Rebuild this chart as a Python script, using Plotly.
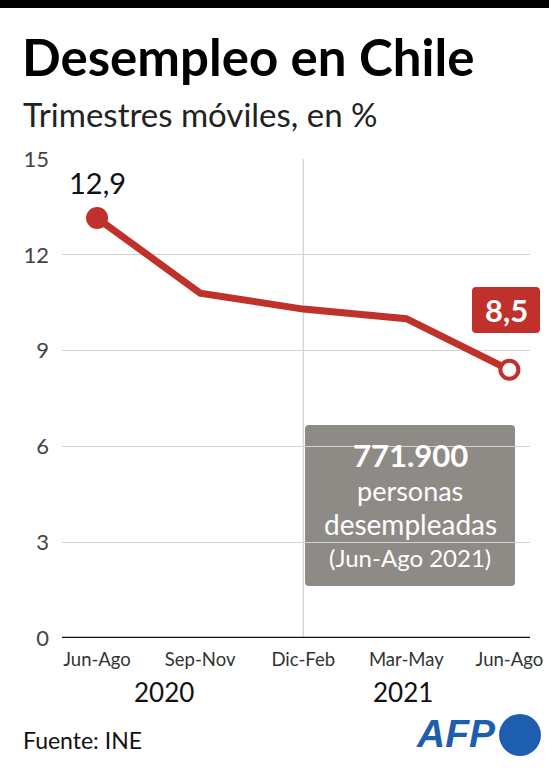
import plotly.graph_objects as go

# ---- data ----
periods = ["Jun-Ago", "Sep-Nov", "Dic-Feb", "Mar-May", "Jun-Ago"]
years = ["2020", "2021"]
unemployment = [13.15, 10.8, 10.3, 10.0, 8.4]
first_label = "12,9"
last_label = "8,5"
yticks = [0, 3, 6, 9, 12, 15]

W, H = 558, 768
L, R, T, B = 62, 28, 159, 130
PW, PH = W - L - R, H - T - B

def px(x):
    return (x - L) / PW

def py(y):
    return (H - B - y) / PH

def rounded_rect(x0, y0, x1, y1, r):
    # pixel coords -> paper path with rounded corners
    pts = (f"M {px(x0 + r)},{py(y0)} L {px(x1 - r)},{py(y0)} "
           f"Q {px(x1)},{py(y0)} {px(x1)},{py(y0 + r)} L {px(x1)},{py(y1 - r)} "
           f"Q {px(x1)},{py(y1)} {px(x1 - r)},{py(y1)} L {px(x0 + r)},{py(y1)} "
           f"Q {px(x0)},{py(y1)} {px(x0)},{py(y1 - r)} L {px(x0)},{py(y0 + r)} "
           f"Q {px(x0)},{py(y0)} {px(x0 + r)},{py(y0)} Z")
    return pts

RED = "#c0312b"
GREY_BOX = "#8e8a86"
BLUE = "#1d5fae"
FONT = "Lato"

xs = list(range(len(periods)))

fig = go.Figure()
fig.add_trace(go.Scatter(
    x=xs, y=unemployment, mode="lines",
    line=dict(color=RED, width=7), cliponaxis=False, hoverinfo="skip"))
fig.add_trace(go.Scatter(
    x=[xs[0]], y=[unemployment[0]], mode="markers",
    marker=dict(color=RED, size=22, line=dict(width=0)), cliponaxis=False))
fig.add_trace(go.Scatter(
    x=[xs[-1]], y=[unemployment[-1]], mode="markers",
    marker=dict(color="white", size=18, line=dict(color=RED, width=4)), cliponaxis=False))

fig.update_layout(
    width=W, height=H, margin=dict(l=L, r=R, t=T, b=B),
    paper_bgcolor="white", plot_bgcolor="white", showlegend=False,
    font=dict(family=FONT, color="#333333"),
    xaxis=dict(range=[-0.34, 4.2], tickvals=xs, ticktext=periods, showgrid=False,
               zeroline=False, showline=False, ticks="", ticklabelstandoff=8,
               tickfont=dict(size=18.5, color="#333333"), fixedrange=True),
    yaxis=dict(range=[0, 15], tickvals=yticks, ticktext=[str(v) for v in yticks],
               showgrid=True, gridcolor="#d2d2d2", gridwidth=1, zeroline=False,
               showline=False, ticks="", ticklabelstandoff=12,
               tickfont=dict(size=22, color="#444444"), fixedrange=True),
)

# year separator and baseline
fig.add_shape(type="line", xref="x", yref="y", x0=2, x1=2, y0=0, y1=15,
              line=dict(color="#c8c8c8", width=1), layer="below")
fig.add_shape(type="line", xref="paper", yref="y", x0=0, x1=1, y0=0, y1=0,
              line=dict(color="#111111", width=2.5))

# top black bar
fig.add_shape(type="rect", xref="paper", yref="paper", x0=px(0), x1=px(549), y0=py(0), y1=py(8),
              fillcolor="black", line=dict(width=0))

# label boxes
fig.add_shape(type="path", xref="paper", yref="paper", path=rounded_rect(472, 287, 540, 333, 4),
              fillcolor=RED, line=dict(width=0))
fig.add_shape(type="path", xref="paper", yref="paper", path=rounded_rect(305, 425, 515, 586, 4),
              fillcolor=GREY_BOX, line=dict(width=0), layer="below")

ann = []
ann.append(dict(text="<b>Desempleo en Chile</b>", x=px(20), y=py(57), xanchor="left", yanchor="middle",
                font=dict(size=51, color="black", family=FONT)))
ann.append(dict(text="Trimestres móviles, en %", x=px(21), y=py(114), xanchor="left", yanchor="middle",
                font=dict(size=33, color="#222222", family=FONT)))
ann.append(dict(text=first_label, x=xs[0], y=unemployment[0], xref="x", yref="y",
                xanchor="center", yanchor="bottom", yshift=16,
                font=dict(size=29, color="#111111", family=FONT)))
ann.append(dict(text="<b>" + last_label + "</b>", x=px(506), y=py(310), xanchor="center", yanchor="middle",
                font=dict(size=31, color="white", family=FONT)))
ann.append(dict(text="<b>771.900</b>", x=px(410), y=py(455), xanchor="center", yanchor="middle",
                font=dict(size=31, color="white", family=FONT)))
ann.append(dict(text="personas", x=px(410), y=py(490), xanchor="center", yanchor="middle",
                font=dict(size=27, color="white", family=FONT)))
ann.append(dict(text="desempleadas", x=px(410), y=py(524), xanchor="center", yanchor="middle",
                font=dict(size=28, color="white", family=FONT)))
ann.append(dict(text="(Jun-Ago 2021)", x=px(410), y=py(557), xanchor="center", yanchor="middle",
                font=dict(size=24, color="white", family=FONT)))
ann.append(dict(text=years[0], x=0.65, y=py(692), xref="x", xanchor="center", yanchor="middle",
                font=dict(size=26, color="#111111", family=FONT)))
ann.append(dict(text=years[1], x=2.97, y=py(692), xref="x", xanchor="center", yanchor="middle",
                font=dict(size=26, color="#111111", family=FONT)))
ann.append(dict(text="Fuente: INE", x=px(21), y=py(740), xanchor="left", yanchor="middle",
                font=dict(size=23, color="#111111", family=FONT)))
ann.append(dict(text="<b><i>AFP</i></b>", x=px(498), y=py(733), xanchor="right", yanchor="middle",
                font=dict(size=39, color=BLUE, family="Liberation Sans")))
for a in ann:
    a.setdefault("xref", "paper")
    a.setdefault("yref", "paper")
    a["showarrow"] = False
fig.update_layout(annotations=ann)

# AFP logo circle
fig.add_shape(type="circle", xref="paper", yref="paper", x0=px(499), x1=px(541), y0=py(756), y1=py(714),
              fillcolor=BLUE, line=dict(width=0))

fig.write_html("out.html", config={"displayModeBar": False})
